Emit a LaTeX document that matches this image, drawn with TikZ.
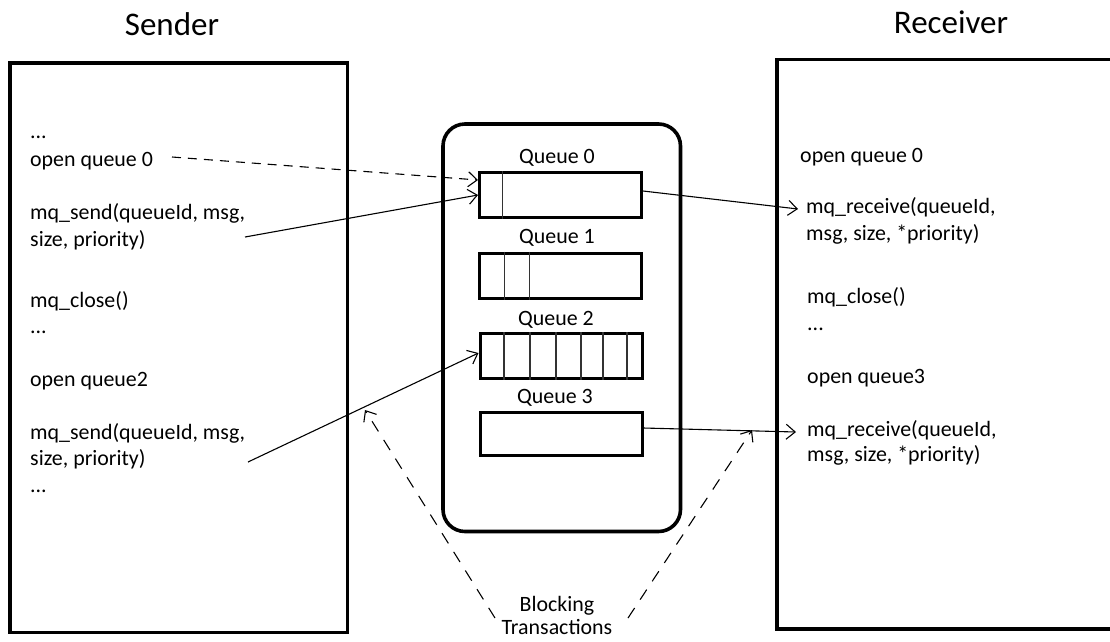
\documentclass[tikz,border=0pt]{standalone}
\usepackage{fontspec}
\setmainfont{Carlito}
\usetikzlibrary{arrows.meta}
\begin{document}
\begin{tikzpicture}[x=1pt,y=-1pt,
  bigbox/.style={line width=3.8pt},
  qbox/.style={draw,line width=3pt,minimum width=162pt,inner sep=0pt},
  divline/.style={line width=1.2pt,draw=black!80},
  txt/.style={anchor=base west,inner sep=0pt,font=\fontsize{21.9}{25}\selectfont},
  qlbl/.style={anchor=base,inner sep=0pt,font=\fontsize{21.9}{25}\selectfont},
  ttl/.style={anchor=base,inner sep=0pt,font=\fontsize{33}{38}\selectfont},
  conn/.style={line width=1.1pt,-{Straight Barb[length=9pt,width=15pt,line width=1.1pt]}},
  dconn/.style={conn,dash pattern=on 9pt off 7pt},
  bconn/.style={conn,dash pattern=on 12pt off 10pt}]
\useasboundingbox (0,0) rectangle (1110,641);
% titles
\node[ttl] (tsend) at (172,35) {Sender};
\node[ttl] (trecv) at (951,33) {Receiver};
% sender and receiver boxes
\draw[bigbox] (10,63) rectangle (347.5,632.5);
\draw[bigbox] (1112,59.5) -- (777,59.5) -- (777,629) -- (1112,629);
% queue container
\draw[bigbox,line width=3.6pt,rounded corners=22pt] (443,124) rectangle (680.5,531.5);
% queues
\node[qlbl] (l0) at (557,163) {Queue 0};
\node[qbox,minimum height=45pt] (q0) at (560.5,195) {};
\draw[divline] ([xshift=24.5pt]q0.north west) -- ([xshift=24.5pt]q0.south west);
\node[qlbl] (l1) at (557,243) {Queue 1};
\node[qbox,minimum height=45pt] (q1) at (560.5,275.5) {};
\foreach \d in {26.5,51.5}
  \draw[divline] ([xshift=\d pt]q1.north west) -- ([xshift=\d pt]q1.south west);
\node[qlbl] (l2) at (556,325) {Queue 2};
\node[qbox,minimum height=45pt] (q2) at (561,356) {};
\foreach \d in {25.5,51.5,77.5,102.5,124.5,148.5}
  \draw[divline] ([xshift=\d pt]q2.north west) -- ([xshift=\d pt]q2.south west);
\node[qlbl] (l3) at (555,403) {Queue 3};
\node[qbox,minimum height=43pt] (q3) at (561,433.5) {};
% sender text
\node[txt] (s1) at (30,138) {...};
\node[txt] (s2) at (30,166) {open queue 0};
\node[txt] (s3) at (30,219) {mq\_send(queueId, msg,};
\node[txt] (s4) at (30,246) {size, priority)};
\node[txt] (s5) at (30,307) {mq\_close()};
\node[txt] (s6) at (30,333) {...};
\node[txt] (s7) at (30,386) {open queue2};
\node[txt] (s8) at (30,439) {mq\_send(queueId, msg,};
\node[txt] (s9) at (30,465) {size, priority)};
\node[txt] (s10) at (30,492) {...};
% receiver text
\node[txt] (r1) at (800,162) {open queue 0};
\node[txt] (r2) at (806,213) {mq\_receive(queueId,};
\node[txt] (r3) at (806,240) {msg, size, *priority)};
\node[txt] (r4) at (807,303) {mq\_close()};
\node[txt] (r5) at (807,330) {...};
\node[txt] (r6) at (807,383) {open queue3};
\node[txt] (r7) at (807,436) {mq\_receive(queueId,};
\node[txt] (r8) at (807,461) {msg, size, *priority)};
% blocking label
\node[qlbl] (b1) at (557,611) {Blocking};
\node[qlbl] (b2) at (557,634) {Transactions};
% connector end points
\coordinate (c1) at (172,157);
\coordinate (c2) at (245,237);
\coordinate (c3) at (798,209);
\coordinate (c4) at (248,462);
\coordinate (c5) at (796,432);
\coordinate (c6) at (495,618);
\coordinate (c7) at (365,410);
\coordinate (c8) at (628,618);
\coordinate (c9) at (752,430);
% connectors
\draw[dconn] (c1) -- ([yshift=15pt]q0.west);
\draw[conn] (c2) -- (q0.west);
\draw[conn] ([yshift=4pt]q0.east) -- (c3);
\draw[conn] (c4) -- ([yshift=3pt]q2.west);
\draw[conn] ([yshift=5.5pt]q3.east) -- (c5);
\draw[bconn] (c6) -- (c7);
\draw[bconn] (c8) -- (c9);
\end{tikzpicture}
\end{document}
